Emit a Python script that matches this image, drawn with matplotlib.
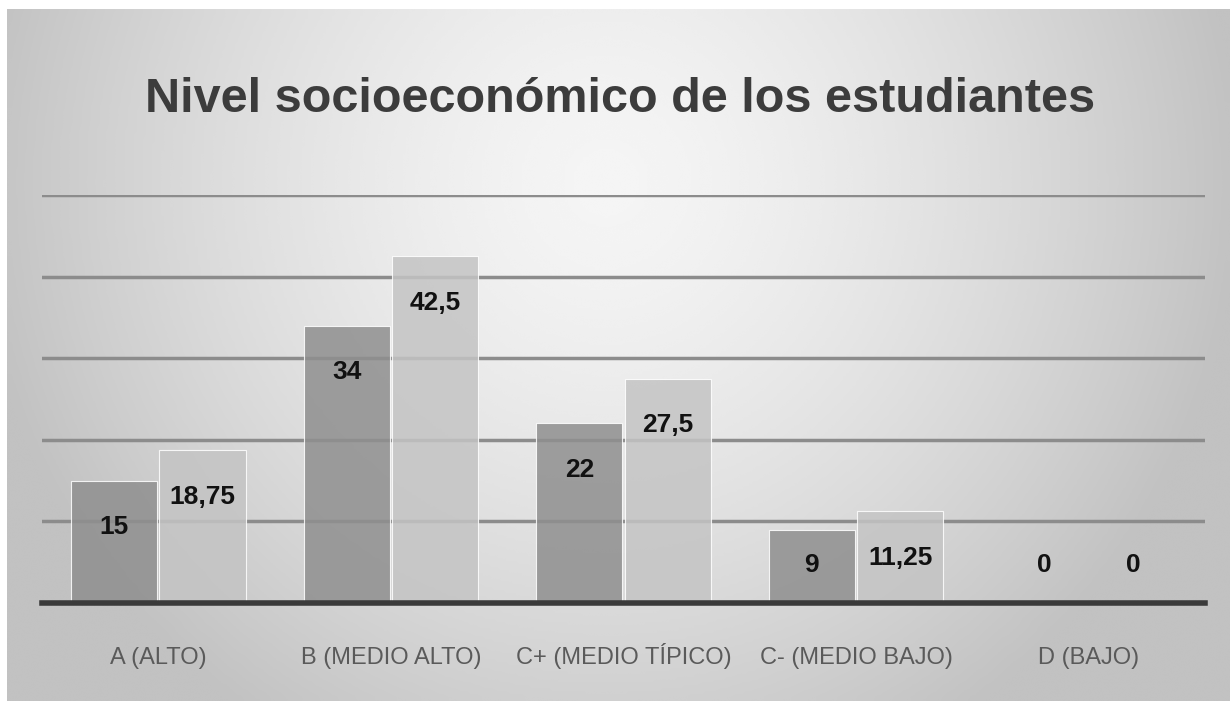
import numpy as np
import matplotlib.pyplot as plt

# data
categorias = ['A (ALTO)', 'B (MEDIO ALTO)', 'C+ (MEDIO TÍPICO)', 'C- (MEDIO BAJO)', 'D (BAJO)']
frecuencia = [15, 34, 22, 9, 0]
porcentaje = [18.75, 42.5, 27.5, 11.25, 0]
titulo = 'Nivel socioeconómico de los estudiantes'

plt.rcParams['font.family'] = ['Liberation Sans Narrow', 'Liberation Sans', 'DejaVu Sans']

W, H = 1230, 701
fig = plt.figure(figsize=(W / 100, H / 100), dpi=100)
fig.patch.set_facecolor('white')

# gradient background (lighter in the middle, grey towards the edges)
bg = fig.add_axes([7 / W, 0, 1 - 7 / W, 1 - 9 / H])
gx, gy = np.meshgrid(np.linspace(-1, 1, 400), np.linspace(-1, 1, 240))
d = np.sqrt(((gx + 0.02) / 1.0) ** 2 + ((gy + 0.5) / 1.8) ** 2)
shade = np.clip(0.96 - 0.19 * d ** 1.5, 0.76, 0.97)
bg.imshow(shade, cmap='gray', vmin=0, vmax=1, aspect='auto',
          extent=[0, 1, 0, 1], interpolation='bicubic')
bg.axis('off')

ax = fig.add_axes([42 / W, 1 - 603 / H, (1205 - 42) / W, (603 - 195) / H])
ax.patch.set_alpha(0)

x = np.arange(len(categorias))
w = 0.37
b1 = ax.bar(x - w / 2 - 0.005, frecuencia, w, color='#8f8f8f', alpha=0.85,
            edgecolor='white', linewidth=0.8, zorder=3)
b2 = ax.bar(x + w / 2 + 0.005, porcentaje, w, color='#c4c4c4', alpha=0.85,
            edgecolor='white', linewidth=0.8, zorder=3)

# data labels inside the top of each bar
for bars, vals in [(b1, frecuencia), (b2, porcentaje)]:
    for rect, v in zip(bars, vals):
        y = max(v - 5.7, 4.65)
        txt = f'{v:g}'.replace('.', ',')
        ax.text(rect.get_x() + rect.get_width() / 2, y, txt, ha='center', va='center',
                fontsize=19, fontweight='bold', color='#111111', zorder=5)

ax.set_ylim(0, 50)
ax.set_xlim(-0.5, len(categorias) - 0.5)
ax.set_yticks([10, 20, 30, 40, 50])
ax.yaxis.grid(True, color='#8c8c8c', linewidth=2.5, zorder=1)
ax.tick_params(axis='y', length=0, labelleft=False)
ax.tick_params(axis='x', length=0, pad=44, labelsize=17, labelcolor='#5a5a5a')
ax.set_xticks(x)
ax.set_xticklabels(categorias)
for lbl in ax.get_xticklabels():
    lbl.set_verticalalignment('baseline')
for s in ['top', 'right', 'left']:
    ax.spines[s].set_visible(False)
ax.spines['bottom'].set_color('#3a3a3a')
ax.spines['bottom'].set_linewidth(4)
ax.spines['bottom'].set_zorder(4)

fig.text(620 / W, 1 - 100 / H, titulo, ha='center', va='center',
         fontsize=35, fontweight='bold', color='#3c3c3c')

plt.savefig('out.png', dpi=100)
